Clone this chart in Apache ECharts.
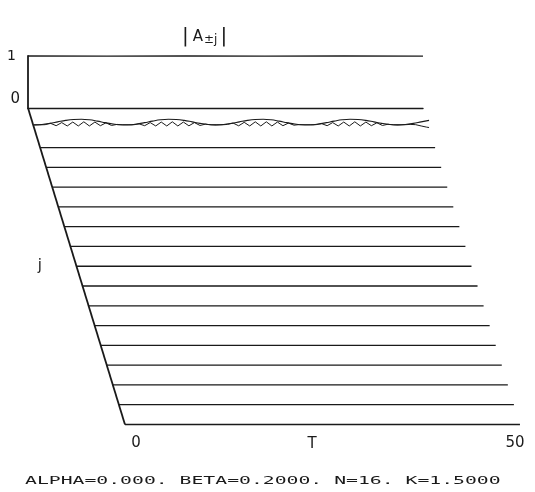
<!DOCTYPE html>
<html>
<head>
<meta charset="utf-8">
<script src="https://cdn.jsdelivr.net/npm/echarts@6/dist/echarts.min.js"></script>
<style>
  html, body { margin: 0; padding: 0; background: #ffffff; }
  #chart { width: 535px; height: 492px; }
</style>
</head>
<body>
<div id="chart"></div>
<script>
// Mode numbers j = 0 .. N, one stacked panel per mode.
const modeIndex = [0, 1, 2, 3, 4, 5, 6, 7, 8, 9, 10, 11, 12, 13, 14, 15, 16];

// |A_0| over T.
const centralT   = [0, 10, 20, 30, 40, 50];
const centralAmp = [1.0, 0.998, 0.999, 0.998, 0.999, 0.998];

// |A_±1|, slowly beating branch, one sample per unit of T.
const slowT = [0, 1, 2, 3, 4, 5, 6, 7, 8, 9, 10, 11, 12, 13, 14, 15, 16, 17, 18, 19, 20,
               21, 22, 23, 24, 25, 26, 27, 28, 29, 30, 31, 32, 33, 34, 35, 36, 37, 38, 39, 40,
               41, 42, 43, 44, 45, 46, 47, 48, 49, 50];
const slowAmp = [0.055, 0.063, 0.085, 0.114, 0.142, 0.160, 0.164, 0.153, 0.128, 0.099, 0.072,
                 0.057, 0.057, 0.072, 0.099, 0.128, 0.153, 0.164, 0.160, 0.142, 0.114,
                 0.085, 0.063, 0.055, 0.063, 0.085, 0.114, 0.142, 0.160, 0.164, 0.153,
                 0.128, 0.099, 0.072, 0.057, 0.057, 0.072, 0.099, 0.128, 0.153, 0.164,
                 0.160, 0.142, 0.114, 0.085, 0.063, 0.055, 0.063, 0.085, 0.114, 0.142];

// |A_±1|, fast scalloped branch.
const fastT = [0.0, 0.7, 1.4, 2.1, 2.8, 3.5, 4.2, 4.9, 5.6, 6.3, 7.0, 7.7, 8.4, 9.1, 9.8,
               10.5, 11.2, 11.9, 12.6, 13.3, 14.0, 14.7, 15.4, 16.1, 16.8, 17.5, 18.2, 18.9,
               19.6, 20.3, 21.0, 21.7, 22.4, 23.1, 23.8, 24.5, 25.2, 25.9, 26.6, 27.3, 28.0,
               28.7, 29.4, 30.1, 30.8, 31.5, 32.2, 32.9, 33.6, 34.3, 35.0, 35.7, 36.4, 37.1,
               37.8, 38.5, 39.2, 39.9, 40.6, 41.3, 42.0, 42.7, 43.4, 44.1, 44.8, 45.5, 46.2,
               46.9, 47.6, 48.3, 49.0, 49.7, 50.0];
const fastAmp = [0.055, 0.056, 0.060, 0.085, 0.040, 0.100, 0.035, 0.110, 0.035, 0.115, 0.035,
                 0.110, 0.040, 0.095, 0.045, 0.065, 0.055, 0.055, 0.058, 0.075, 0.040, 0.100,
                 0.035, 0.110, 0.035, 0.115, 0.035, 0.110, 0.038, 0.100, 0.045, 0.070, 0.056,
                 0.055, 0.057, 0.065, 0.090, 0.038, 0.105, 0.035, 0.115, 0.035, 0.115, 0.035,
                 0.110, 0.040, 0.090, 0.050, 0.062, 0.055, 0.056, 0.060, 0.080, 0.040, 0.100,
                 0.035, 0.110, 0.035, 0.115, 0.035, 0.110, 0.040, 0.095, 0.045, 0.068, 0.056,
                 0.055, 0.058, 0.065, 0.060, 0.035, 0.012, 0.005];

// |A_±j| for j >= 2 stays on the floor.
const outerT   = [0, 10, 20, 30, 40, 50];
const outerAmp = [0, 0, 0, 0, 0, 0];

// Axis ranges and labelled ticks.
const tRange   = [0, 50];
const ampRange = [0, 1];
const tTicks   = [0, 50];
const ampTicks = [1];
const jTicks   = [0];
const paramLine = 'ALPHA=0.000. BETA=0.2000. N=16. K=1.5000';

// Panel layout: every mode panel is shifted right and down from the previous one.
const ROW0_LEFT = 28;
const ROW_DX = 6.06;
const ROW0_BASE = 108;
const ROW_DY = 19.78;
const ROW_W = 395;
const AMP_H = 52;

const INK = '#1a1a1a';
const FONT = '"DejaVu Sans", sans-serif';
const last = modeIndex.length - 1;

const zip = (xs, ys) => xs.map((x, i) => [x, ys[i]]);

const grids = [];
const xAxes = [];
const yAxes = [];
const series = [];

modeIndex.forEach((j, i) => {
  grids.push({
    left: ROW0_LEFT + j * ROW_DX,
    top: ROW0_BASE + j * ROW_DY - AMP_H,
    width: ROW_W,
    height: AMP_H,
    containLabel: false,
    outerBoundsMode: 'none'
  });

  const isTop = i === 0;
  const isBottom = i === last;

  xAxes.push({
    gridIndex: i,
    type: 'value',
    min: tRange[0],
    max: tRange[1],
    interval: 50,
    show: isTop || isBottom,
    axisLine: { show: isTop, onZero: false, lineStyle: { color: INK, width: 1.4 } },
    axisTick: { show: false },
    splitLine: { show: false },
    axisLabel: {
      show: isBottom,
      margin: 11,
      color: INK,
      fontFamily: FONT,
      fontSize: 15,
      formatter: v => (tTicks.indexOf(v) === 0 ? '{lo|' + v + '}' : '{hi|' + v + '}'),
      rich: {
        lo: { fontFamily: FONT, fontSize: 15, color: INK, padding: [0, 0, 0, 22] },
        hi: { fontFamily: FONT, fontSize: 15, color: INK, padding: [0, 10, 0, 0] }
      }
    },
    name: isBottom ? 'T' : '',
    nameLocation: 'middle',
    nameGap: 12,
    nameMoveOverlap: false,
    nameTextStyle: { color: INK, fontFamily: FONT, fontSize: 15, padding: [0, 21, 0, 0] }
  });

  yAxes.push({
    gridIndex: i,
    type: 'value',
    min: ampRange[0],
    max: ampRange[1],
    interval: 1,
    show: isTop,
    axisLine: { show: isTop, lineStyle: { color: INK, width: 1.8 } },
    axisTick: { show: false },
    splitLine: { show: false },
    axisLabel: {
      show: isTop,
      margin: 12,
      color: INK,
      fontFamily: FONT,
      fontSize: 14,
      padding: [0, 0, 0, 0],
      formatter: v => (ampTicks.indexOf(v) >= 0 ? String(v) : '')
    }
  });

  const base = { type: 'line', xAxisIndex: i, yAxisIndex: i, showSymbol: false,
                 clip: false, silent: true, animation: false };
  if (j === 0) {
    series.push(Object.assign({}, base, {
      data: zip(centralT, centralAmp),
      lineStyle: { color: INK, width: 1.4 }
    }));
  } else if (j === 1) {
    series.push(Object.assign({}, base, {
      data: zip(slowT, slowAmp),
      smooth: 0.4,
      lineStyle: { color: INK, width: 1.1 }
    }));
    series.push(Object.assign({}, base, {
      data: zip(fastT, fastAmp),
      smooth: false,
      lineStyle: { color: INK, width: 1.0 }
    }));
  } else {
    series.push(Object.assign({}, base, {
      data: zip(outerT, outerAmp),
      lineStyle: { color: INK, width: 1.3 }
    }));
  }
});

// Mode-number axis: carries the j = 0 label and the axis name.
const jGrid = grids.length;
grids.push({
  left: 55,
  top: ROW0_BASE,
  width: 10,
  height: (modeIndex[last] - modeIndex[0]) * ROW_DY,
  containLabel: false,
  outerBoundsMode: 'none'
});
xAxes.push({ gridIndex: jGrid, type: 'value', show: false });
yAxes.push({
  gridIndex: jGrid,
  type: 'value',
  min: modeIndex[0],
  max: modeIndex[last],
  interval: modeIndex[last],
  inverse: true,
  axisLine: { show: false },
  axisTick: { show: false },
  splitLine: { show: false },
  axisLabel: {
    margin: 35,
    formatter: v => (jTicks.indexOf(v) >= 0 ? '{z|' + v + '}' : ''),
    rich: { z: { fontFamily: FONT, fontSize: 15, color: INK, padding: [0, 0, 18, 0] } }
  },
  name: 'j',
  nameLocation: 'middle',
  nameRotate: 0,
  nameGap: 13,
  nameMoveOverlap: false,
  nameTextStyle: { color: INK, fontFamily: FONT, fontSize: 15, padding: [0, 0, 12, 0] }
});

const chart = echarts.init(document.getElementById('chart'), null, { renderer: 'canvas' });
chart.setOption({
  animation: false,
  backgroundColor: '#ffffff',
  title: {
    text: '{b||}{a|A}{s|±j}{b||}',
    left: 177,
    top: 22,
    textStyle: {
      fontWeight: 'normal',
      rich: {
        b: { fontFamily: FONT, fontSize: 20, fontWeight: 'normal', color: INK },
        a: { fontFamily: FONT, fontSize: 15, fontWeight: 'normal', color: INK, padding: [0, 1, 0, 4] },
        s: { fontFamily: FONT, fontSize: 12, fontWeight: 'normal', color: INK, padding: [5, 3, 0, 0] }
      }
    }
  },
  grid: grids,
  xAxis: xAxes,
  yAxis: yAxes,
  series: series
});

// Oblique mode axis joining the T = 0 origins of the first and last panels.
const top0 = chart.convertToPixel({ gridIndex: 0 }, [tRange[0], ampRange[0]]);
const bot0 = chart.convertToPixel({ gridIndex: last }, [tRange[0], ampRange[0]]);
chart.setOption({
  graphic: [
    {
      type: 'line',
      silent: true,
      shape: { x1: top0[0], y1: top0[1], x2: bot0[0], y2: bot0[1] },
      style: { stroke: INK, lineWidth: 1.8 }
    },
    {
      type: 'text',
      silent: true,
      x: 25,
      y: 481,
      scaleX: 1.975,
      style: {
        text: paramLine,
        font: '10px "DejaVu Sans Mono", monospace',
        fill: INK,
        align: 'left',
        verticalAlign: 'middle'
      }
    }
  ]
});
</script>
</body>
</html>
